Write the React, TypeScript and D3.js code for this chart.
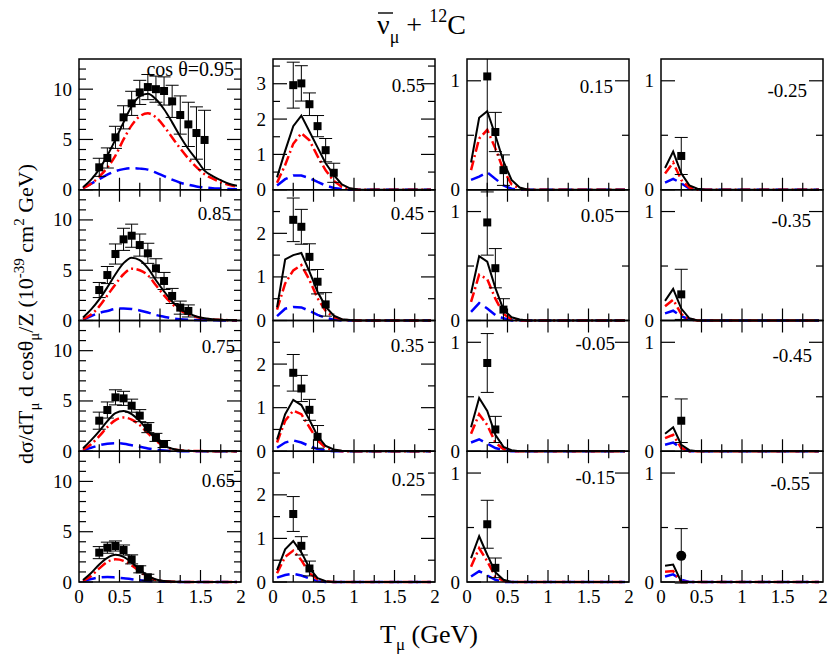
import React from 'react';
import * as d3 from 'd3';

// ---------- data ----------
const tGrid = [0.05, 0.15, 0.25, 0.35, 0.45, 0.55, 0.65, 0.75, 0.85, 0.95, 1.05, 1.15, 1.25, 1.35, 1.45, 1.55, 1.65, 1.75, 1.85, 1.95];
const binCenters = [0.25, 0.35, 0.45, 0.55, 0.65, 0.75, 0.85, 0.95, 1.05, 1.15, 1.25, 1.35, 1.45, 1.55];
const cosLabels = ['cos \u03b8=0.95', '0.85', '0.75', '0.65', '0.55', '0.45', '0.35', '0.25', '0.15', '0.05', '-0.05', '-0.15', '-0.25', '-0.35', '-0.45', '-0.55'];
const yMaxes = [13, 13, 13, 13, 3.7, 3, 3, 3, 1.2, 1.2, 1.2, 1.2, 1.2, 1.2, 1.2, 1.2];

const totalCurves = [
  [0.25, 1.0, 2.05, 3.4, 5.0, 6.7, 8.3, 9.3, 9.55, 9.0, 8.0, 6.7, 5.3, 4.05, 3.0, 1.9, 1.35, 0.95, 0.6, 0.4],
  [0.3, 1.1, 2.1, 3.3, 4.6, 5.7, 6.25, 6.0, 5.2, 4.0, 2.9, 1.9, 1.15, 0.7, 0.4, 0.22, 0.12, 0.07, 0.04, 0.02],
  [0.3, 1.1, 2.0, 3.0, 3.8, 4.0, 3.7, 3.0, 2.05, 1.2, 0.55, 0.25, 0.1, 0.05, 0.02, 0.01, 0, 0, 0, 0],
  [0.2, 0.9, 1.75, 2.4, 2.7, 2.5, 1.95, 1.25, 0.6, 0.25, 0.1, 0.04, 0.02, 0, 0, 0, 0, 0, 0, 0],
  [0.35, 1.1, 1.8, 2.1, 1.65, 1.2, 0.75, 0.42, 0.15, 0.04, 0.01, 0, 0, 0, 0, 0, 0, 0, 0, 0],
  [0.3, 1.4, 1.5, 1.55, 1.12, 0.66, 0.32, 0.11, 0.03, 0.01, 0, 0, 0, 0, 0, 0, 0, 0, 0, 0],
  [0.27, 0.85, 1.18, 1.06, 0.72, 0.35, 0.12, 0.04, 0.01, 0, 0, 0, 0, 0, 0, 0, 0, 0, 0, 0],
  [0.27, 0.75, 0.94, 0.68, 0.32, 0.09, 0.02, 0, 0, 0, 0, 0, 0, 0, 0, 0, 0, 0, 0, 0],
  [0.25, 0.66, 0.72, 0.5, 0.26, 0.09, 0.02, 0, 0, 0, 0, 0, 0, 0, 0, 0, 0, 0, 0, 0],
  [0.25, 0.59, 0.54, 0.3, 0.1, 0.03, 0.01, 0, 0, 0, 0, 0, 0, 0, 0, 0, 0, 0, 0, 0],
  [0.22, 0.49, 0.37, 0.15, 0.04, 0.01, 0, 0, 0, 0, 0, 0, 0, 0, 0, 0, 0, 0, 0, 0],
  [0.22, 0.42, 0.25, 0.09, 0.02, 0, 0, 0, 0, 0, 0, 0, 0, 0, 0, 0, 0, 0, 0, 0],
  [0.2, 0.35, 0.15, 0.04, 0.01, 0, 0, 0, 0, 0, 0, 0, 0, 0, 0, 0, 0, 0, 0, 0],
  [0.18, 0.29, 0.11, 0.02, 0, 0, 0, 0, 0, 0, 0, 0, 0, 0, 0, 0, 0, 0, 0, 0],
  [0.16, 0.22, 0.06, 0.01, 0, 0, 0, 0, 0, 0, 0, 0, 0, 0, 0, 0, 0, 0, 0, 0],
  [0.15, 0.16, 0, 0, 0, 0, 0, 0, 0, 0, 0, 0, 0, 0, 0, 0, 0, 0, 0, 0],
];

const qeCurves = [
  [0.15, 0.6, 1.3, 2.2, 3.4, 5.0, 6.4, 7.3, 7.6, 7.2, 6.3, 5.2, 4.1, 3.1, 2.25, 1.55, 1.1, 0.75, 0.5, 0.3],
  [0.15, 0.6, 1.4, 2.5, 3.6, 4.6, 5.15, 5.0, 4.5, 3.5, 2.5, 1.65, 1.0, 0.6, 0.35, 0.2, 0.1, 0.06, 0.03, 0.02],
  [0.15, 0.7, 1.5, 2.4, 3.1, 3.35, 3.15, 2.6, 1.8, 1.05, 0.5, 0.22, 0.09, 0.04, 0.02, 0.01, 0, 0, 0, 0],
  [0.1, 0.6, 1.35, 2.0, 2.25, 2.1, 1.65, 1.05, 0.5, 0.2, 0.08, 0.03, 0.01, 0, 0, 0, 0, 0, 0, 0],
  [0.2, 0.7, 1.3, 1.6, 1.4, 0.95, 0.55, 0.25, 0.08, 0.02, 0, 0, 0, 0, 0, 0, 0, 0, 0, 0],
  [0.25, 0.85, 1.15, 1.27, 0.93, 0.51, 0.22, 0.08, 0.02, 0, 0, 0, 0, 0, 0, 0, 0, 0, 0, 0],
  [0.2, 0.7, 0.93, 0.85, 0.55, 0.25, 0.08, 0.02, 0, 0, 0, 0, 0, 0, 0, 0, 0, 0, 0, 0],
  [0.2, 0.58, 0.72, 0.5, 0.2, 0.06, 0.01, 0, 0, 0, 0, 0, 0, 0, 0, 0, 0, 0, 0, 0],
  [0.18, 0.47, 0.55, 0.38, 0.18, 0.05, 0.01, 0, 0, 0, 0, 0, 0, 0, 0, 0, 0, 0, 0, 0],
  [0.17, 0.42, 0.38, 0.2, 0.06, 0.01, 0, 0, 0, 0, 0, 0, 0, 0, 0, 0, 0, 0, 0, 0],
  [0.16, 0.34, 0.24, 0.08, 0.02, 0, 0, 0, 0, 0, 0, 0, 0, 0, 0, 0, 0, 0, 0, 0],
  [0.14, 0.31, 0.19, 0.05, 0.01, 0, 0, 0, 0, 0, 0, 0, 0, 0, 0, 0, 0, 0, 0, 0],
  [0.15, 0.25, 0.09, 0.02, 0, 0, 0, 0, 0, 0, 0, 0, 0, 0, 0, 0, 0, 0, 0, 0],
  [0.13, 0.19, 0.06, 0.01, 0, 0, 0, 0, 0, 0, 0, 0, 0, 0, 0, 0, 0, 0, 0, 0],
  [0.12, 0.15, 0.03, 0, 0, 0, 0, 0, 0, 0, 0, 0, 0, 0, 0, 0, 0, 0, 0, 0],
  [0.095, 0.1, 0, 0, 0, 0, 0, 0, 0, 0, 0, 0, 0, 0, 0, 0, 0, 0, 0, 0],
];

const npnhCurves = [
  [0.15, 0.6, 1.05, 1.5, 1.85, 2.05, 2.15, 2.1, 2.0, 1.7, 1.35, 1.0, 0.7, 0.5, 0.33, 0.23, 0.16, 0.12, 0.08, 0.06],
  [0.1, 0.45, 0.75, 0.95, 1.15, 1.2, 1.15, 1.0, 0.8, 0.55, 0.38, 0.22, 0.13, 0.08, 0.05, 0.03, 0.02, 0.01, 0.01, 0],
  [0.1, 0.35, 0.6, 0.75, 0.8, 0.75, 0.6, 0.45, 0.28, 0.15, 0.07, 0.03, 0.01, 0, 0, 0, 0, 0, 0, 0],
  [0.1, 0.3, 0.45, 0.5, 0.45, 0.38, 0.28, 0.18, 0.1, 0.05, 0.02, 0.01, 0, 0, 0, 0, 0, 0, 0, 0],
  [0.12, 0.3, 0.4, 0.4, 0.33, 0.22, 0.12, 0.05, 0.02, 0, 0, 0, 0, 0, 0, 0, 0, 0, 0, 0],
  [0.1, 0.27, 0.31, 0.3, 0.22, 0.13, 0.06, 0.02, 0, 0, 0, 0, 0, 0, 0, 0, 0, 0, 0, 0],
  [0.08, 0.2, 0.25, 0.2, 0.12, 0.05, 0.02, 0, 0, 0, 0, 0, 0, 0, 0, 0, 0, 0, 0, 0],
  [0.1, 0.16, 0.19, 0.15, 0.08, 0.02, 0, 0, 0, 0, 0, 0, 0, 0, 0, 0, 0, 0, 0, 0],
  [0.09, 0.12, 0.16, 0.1, 0.04, 0.01, 0, 0, 0, 0, 0, 0, 0, 0, 0, 0, 0, 0, 0, 0],
  [0.08, 0.16, 0.11, 0.05, 0.02, 0, 0, 0, 0, 0, 0, 0, 0, 0, 0, 0, 0, 0, 0, 0],
  [0.08, 0.11, 0.07, 0.03, 0.01, 0, 0, 0, 0, 0, 0, 0, 0, 0, 0, 0, 0, 0, 0, 0],
  [0.05, 0.1, 0.06, 0.02, 0, 0, 0, 0, 0, 0, 0, 0, 0, 0, 0, 0, 0, 0, 0, 0],
  [0.065, 0.1, 0.06, 0.01, 0, 0, 0, 0, 0, 0, 0, 0, 0, 0, 0, 0, 0, 0, 0, 0],
  [0.065, 0.09, 0.04, 0.01, 0, 0, 0, 0, 0, 0, 0, 0, 0, 0, 0, 0, 0, 0, 0, 0],
  [0.06, 0.08, 0.03, 0, 0, 0, 0, 0, 0, 0, 0, 0, 0, 0, 0, 0, 0, 0, 0, 0],
  [0.05, 0.07, 0.02, 0, 0, 0, 0, 0, 0, 0, 0, 0, 0, 0, 0, 0, 0, 0, 0, 0],
];

const dataValues = [
  [2.23, 3.16, 5.21, 7.2, 8.59, 9.68, 10.21, 10.0, 9.82, 8.79, 7.43, 6.5, 5.64, 4.95],
  [3.03, 4.52, 6.61, 8.07, 8.43, 7.5, 6.68, 5.19, 3.93, 2.44, 1.28, 0.95],
  [3.04, 4.1, 5.36, 5.26, 4.53, 3.54, 2.35, 1.38, 0.72],
  [2.92, 3.41, 3.58, 3.18, 2.25, 1.26, 0.47],
  [2.96, 3.01, 2.42, 1.8, 1.12, 0.48],
  [2.31, 2.15, 1.46, 0.89, 0.37],
  [1.8, 1.44, 0.95, 0.33],
  [1.56, 0.83, 0.31],
  [1.04, 0.53, 0.18],
  [0.9, 0.48, 0.1],
  [0.81, 0.2],
  [0.53, 0.13],
  [0.31],
  [0.24],
  [0.28],
  [0.24],
];

const dataErrors = [
  [0.9, 1.0, 1.1, 1.15, 1.2, 1.2, 1.25, 1.3, 1.4, 1.6, 1.9, 2.2, 2.6, 2.95],
  [0.75, 0.85, 1.0, 1.1, 1.15, 1.1, 1.0, 0.95, 0.85, 0.75, 0.65, 0.6],
  [0.85, 0.8, 0.75, 0.7, 0.65, 0.6, 0.5, 0.4, 0.35],
  [0.6, 0.55, 0.5, 0.5, 0.45, 0.35, 0.3],
  [0.65, 0.5, 0.32, 0.3, 0.33, 0.27],
  [0.5, 0.4, 0.3, 0.28, 0.27],
  [0.42, 0.3, 0.24, 0.26],
  [0.4, 0.21, 0.17],
  [1.06, 0.18, 0.14],
  [0.3, 0.18, 0.1],
  [0.27, 0.12],
  [0.22, 0.09],
  [0.17],
  [0.23],
  [0.2],
  [0.25],
];

const dataMarkers = ['square', 'square', 'square', 'square', 'square', 'square', 'square', 'square', 'square', 'square', 'square', 'square', 'square', 'square', 'square', 'circle'];

const xTickValues = [0, 0.5, 1, 1.5, 2];
const xTickLabels = ['0', '0.5', '1', '1.5', '2'];

// ---------- layout ----------
const W = 830;
const H = 661;
const PANEL_LEFT0 = 79;
const PANEL_STEP = 194;
const PANEL_W = 162;
const PANEL_TOP0 = 59;
const PANEL_H = 130.75;
const FONT = 'Liberation Serif';
const labelPos = [
  [234, 76], [231, 220], [235, 353], [235, 487],
  [425, 92], [424, 220], [424, 352], [425, 486],
  [613, 93], [614, 222], [615, 350], [615, 484],
  [807, 97], [811, 227], [812, 362], [810, 490],
];

function Panel({ p }: { p: number }) {
  const c = Math.floor(p / 4);
  const r = p % 4;
  const x0 = PANEL_LEFT0 + c * PANEL_STEP;
  const y0 = PANEL_TOP0 + r * PANEL_H;
  const yMax = yMaxes[p];
  const xs = d3.scaleLinear().domain([0, 2]).range([x0, x0 + PANEL_W]);
  const ys = d3.scaleLinear().domain([0, yMax]).range([y0 + PANEL_H, y0]);

  const majorStep = c === 0 ? 5 : 1;
  const minorStep = c === 0 ? 1 : 0.5;
  const yMajor = d3.range(0, yMax - 1e-6, majorStep);
  const yMinor = d3.range(minorStep, yMax - 1e-6, minorStep).filter((v) => Math.abs(v / majorStep - Math.round(v / majorStep)) > 1e-6);
  const xMajor = [0.5, 1, 1.5];
  const xMinor = [0.25, 0.75, 1.25, 1.75];

  const line = d3
    .line<number>()
    .x((_, i) => xs(tGrid[i]))
    .y((d) => ys(d))
    .curve(c === 0 ? d3.curveMonotoneX : d3.curveLinear);

  const bottom = y0 + PANEL_H;
  const right = x0 + PANEL_W;
  const yMajLen = 14;
  const yMinLen = 7;
  const xMajLen = 12;
  const xMinLen = 7;
  const cap = 6.5;
  const tk = { stroke: '#000', strokeWidth: 1.2 };

  return (
    <g>
      {/* curves */}
      <path d={line(npnhCurves[p]) || ''} fill="none" stroke="#0000ff" strokeWidth={2.5} strokeDasharray="13,6" />
      <path d={line(qeCurves[p]) || ''} fill="none" stroke="#ff0000" strokeWidth={2.5} strokeDasharray="10,3.5,2,3.5" />
      <path d={line(totalCurves[p]) || ''} fill="none" stroke="#000" strokeWidth={2} />

      {/* data */}
      {dataValues[p].map((v, i) => {
        const e = dataErrors[p][i];
        const cx = xs(binCenters[i]);
        const cy = ys(v);
        const topClamped = v + e > yMax;
        const yt = ys(Math.min(v + e, yMax));
        const yb = ys(v - e);
        return (
          <g key={i}>
            <line x1={cx} x2={cx} y1={yt} y2={yb} stroke="#000" strokeWidth={1} />
            {!topClamped && <line x1={cx - cap} x2={cx + cap} y1={yt} y2={yt} stroke="#000" strokeWidth={1} />}
            <line x1={cx - cap} x2={cx + cap} y1={yb} y2={yb} stroke="#000" strokeWidth={1} />
            {dataMarkers[p] === 'circle' ? (
              <circle cx={cx} cy={cy} r={5} fill="#000" />
            ) : (
              <rect x={cx - 4} y={cy - 4} width={8} height={8} fill="#000" />
            )}
          </g>
        );
      })}

      {/* y ticks */}
      {yMajor.map((v) => (
        <g key={'ym' + v}>
          <line x1={x0} x2={x0 + yMajLen} y1={ys(v)} y2={ys(v)} {...tk} />
          <line x1={right} x2={right - yMajLen} y1={ys(v)} y2={ys(v)} {...tk} />
          <text x={x0 - 7} y={ys(v) + 6.5} textAnchor="end" fontSize={19} fontFamily={FONT}>
            {String(v)}
          </text>
        </g>
      ))}
      {yMinor.map((v) => (
        <g key={'yn' + v}>
          <line x1={x0} x2={x0 + yMinLen} y1={ys(v)} y2={ys(v)} {...tk} />
          <line x1={right} x2={right - yMinLen} y1={ys(v)} y2={ys(v)} {...tk} />
        </g>
      ))}

      {/* x ticks */}
      {xMajor.map((v) => (
        <line key={'xm' + v} x1={xs(v)} x2={xs(v)} y1={r < 3 ? bottom + xMajLen : bottom} y2={bottom - xMajLen} {...tk} />
      ))}
      {xMinor.map((v) => (
        <line key={'xn' + v} x1={xs(v)} x2={xs(v)} y1={r < 3 ? bottom + xMinLen : bottom} y2={bottom - xMinLen} {...tk} />
      ))}
      {r === 3 &&
        xTickValues.map((v, i) => (
          <text key={'xl' + v} x={xs(v)} y={bottom + 21} textAnchor="middle" fontSize={19} fontFamily={FONT}>
            {xTickLabels[i]}
          </text>
        ))}

      {/* frame */}
      <rect x={x0} y={y0} width={PANEL_W} height={PANEL_H} fill="none" stroke="#000" strokeWidth={1.5} />

      {/* angle label */}
      <text x={labelPos[p][0]} y={labelPos[p][1]} textAnchor="end" fontSize={p === 0 ? 20 : 19} fontFamily={FONT}>
        {cosLabels[p]}
      </text>
    </g>
  );
}

export default function App() {
  const panels = d3.range(16);
  return (
    <svg
      width={W}
      height={H}
      viewBox={`0 0 ${W} ${H}`}
      style={{ position: 'absolute', left: 0, top: 0, display: 'block', background: '#fff' }}
    >
      <rect x={0} y={0} width={W} height={H} fill="#fff" />
      {panels.map((p) => (
        <Panel key={p} p={p} />
      ))}

      {/* title */}
      <text x={377} y={34} fontSize={28} fontFamily={FONT}>
        <tspan>{'\u03bd'}</tspan>
        <tspan fontSize={18} dy={9}>{'\u03bc'}</tspan>
        <tspan dy={-9}>{' + '}</tspan>
        <tspan fontSize={18} dy={-12}>12</tspan>
        <tspan dy={12}>C</tspan>
      </text>
      <line x1={378} x2={393} y1={13} y2={13} stroke="#000" strokeWidth={1.4} />

      {/* x axis label */}
      <text x={380} y={643} fontSize={26} fontFamily={FONT}>
        <tspan>T</tspan>
        <tspan fontSize={17} dy={7}>{'\u03bc'}</tspan>
        <tspan dy={-7}>{' (GeV)'}</tspan>
      </text>

      {/* y axis label */}
      <text transform="translate(33,314) rotate(-90)" textAnchor="middle" fontSize={22} fontFamily={FONT}>
        <tspan>{'d\u03c3/dT'}</tspan>
        <tspan fontSize={15} dy={6}>{'\u03bc'}</tspan>
        <tspan dy={-6}>{' d cos\u03b8'}</tspan>
        <tspan fontSize={15} dy={6}>{'\u03bc'}</tspan>
        <tspan dy={-6}>{'/Z (10'}</tspan>
        <tspan fontSize={15} dy={-9}>-39</tspan>
        <tspan dy={9}>{' cm'}</tspan>
        <tspan fontSize={15} dy={-9}>2</tspan>
        <tspan dy={9}>{' GeV)'}</tspan>
      </text>
    </svg>
  );
}
